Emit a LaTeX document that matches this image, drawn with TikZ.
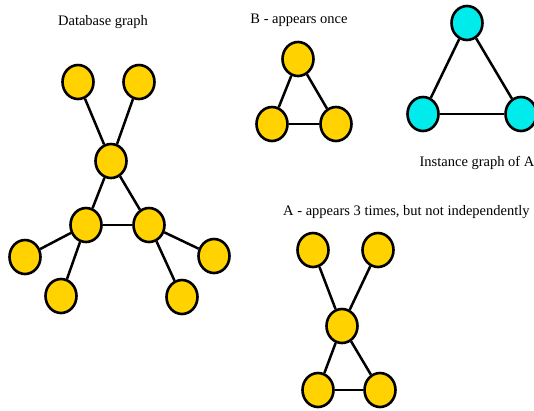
\documentclass[tikz,border=0pt]{standalone}
\usepackage{fontspec}
\setmainfont{Liberation Serif}
\usetikzlibrary{shapes.geometric}
\definecolor{gnode}{RGB}{255,210,0}
\definecolor{cnode}{RGB}{0,235,235}
\tikzset{
  ynode/.style={ellipse,draw=black,line width=2.6pt,fill=gnode,minimum width=31pt,minimum height=34pt,inner sep=0pt},
  cyn/.style={ynode,fill=cnode},
  edge/.style={line width=2.5pt,black},
  thinedge/.style={line width=1.3pt,black},
  lbl/.style={font=\fontsize{14.5}{16}\selectfont,inner sep=0pt}
}
\begin{document}
\begin{tikzpicture}[x=1pt,y=-1pt]
\useasboundingbox (0,0) rectangle (534,410);
% labels
\node[lbl] (t1) at (103,22) {Database graph};
\node[lbl] (t2) at (299,20) {B - appears once};
\node[lbl] (t3) at (477,163) {Instance graph of A};
\node[lbl,anchor=west] (t4) at (283,212) {A - appears 3 times, but not independently};
% database graph
\node[ynode] (d1) at (78,82) {};
\node[ynode] (d2) at (139,82) {};
\node[ynode] (d3) at (111,161) {};
\node[ynode] (d4) at (86,225) {};
\node[ynode] (d5) at (149,225) {};
\node[ynode] (d6) at (25,257) {};
\node[ynode] (d7) at (61,296) {};
\node[ynode] (d8) at (182,297) {};
\node[ynode] (d9) at (214,256) {};
\draw[edge] (d1) -- (d3);
\draw[edge] (d2) -- (d3);
\draw[edge] (d3) -- (d4);
\draw[edge] (d3) -- (d5);
\draw[thinedge] (d4) -- (d5);
\draw[edge] (d4) -- (d6);
\draw[edge] (d4) -- (d7);
\draw[edge] (d5) -- (d9);
\draw[edge] (d5) -- (d8);
% B graph
\node[ynode] (b1) at (298,59) {};
\node[ynode] (b2) at (272,124) {};
\node[ynode] (b3) at (336,124) {};
\draw[edge] (b1) -- (b2);
\draw[edge] (b1) -- (b3);
\draw[thinedge] (b2) -- (b3);
% instance graph of A
\node[cyn] (c1) at (467,23) {};
\node[cyn] (c2) at (423,114) {};
\node[cyn] (c3) at (521,114) {};
\draw[edge] (c1) -- (c2);
\draw[edge] (c1) -- (c3);
\draw[edge] (c2) -- (c3);
% A graph
\node[ynode] (a1) at (313,250) {};
\node[ynode] (a2) at (378,250) {};
\node[ynode] (a3) at (342,326) {};
\node[ynode] (a4) at (318,390) {};
\node[ynode] (a5) at (380,390) {};
\draw[edge] (a1) -- (a3);
\draw[edge] (a2) -- (a3);
\draw[edge] (a3) -- (a4);
\draw[edge] (a3) -- (a5);
\draw[edge] (a4) -- (a5);
\end{tikzpicture}
\end{document}
